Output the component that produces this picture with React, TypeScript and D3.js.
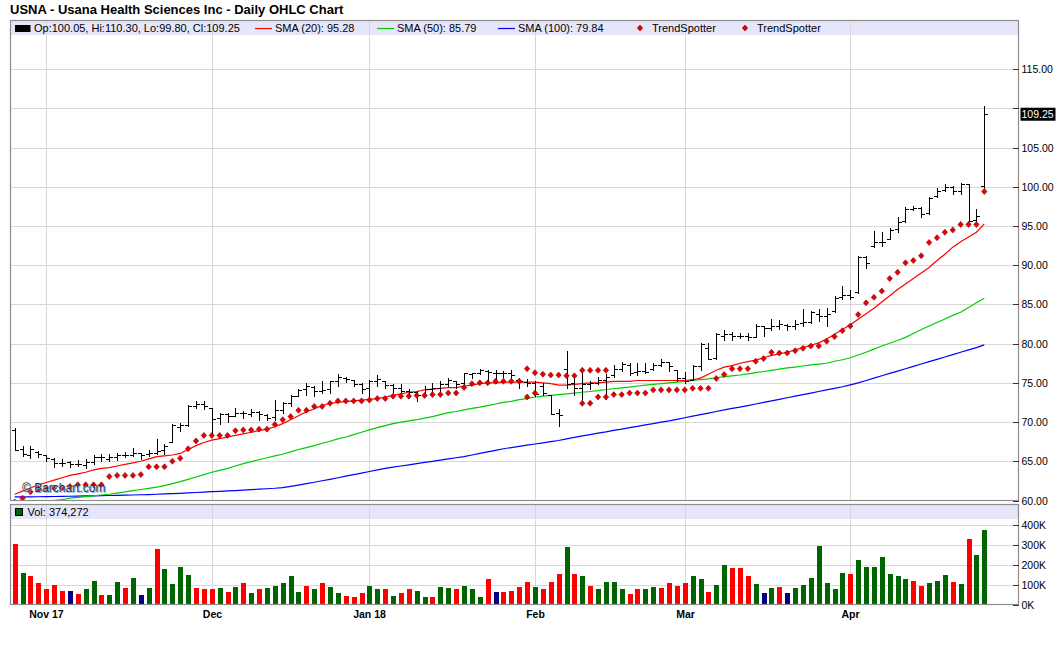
import React, { useEffect, useRef } from "react";
import * as d3 from "d3";

// trading days shown on the chart
const tradingDays: string[] = [
  "2017-10-26", "2017-10-27", "2017-10-30", "2017-10-31",
  "2017-11-01", "2017-11-02", "2017-11-03", "2017-11-06", "2017-11-07", "2017-11-08", "2017-11-09", "2017-11-10",
  "2017-11-13", "2017-11-14", "2017-11-15", "2017-11-16", "2017-11-17", "2017-11-20", "2017-11-21", "2017-11-22",
  "2017-11-24", "2017-11-27", "2017-11-28", "2017-11-29", "2017-11-30",
  "2017-12-01", "2017-12-04", "2017-12-05", "2017-12-06", "2017-12-07", "2017-12-08", "2017-12-11", "2017-12-12",
  "2017-12-13", "2017-12-14", "2017-12-15", "2017-12-18", "2017-12-19", "2017-12-20", "2017-12-21", "2017-12-22",
  "2017-12-26", "2017-12-27", "2017-12-28", "2017-12-29",
  "2018-01-02", "2018-01-03", "2018-01-04", "2018-01-05", "2018-01-08", "2018-01-09", "2018-01-10", "2018-01-11",
  "2018-01-12", "2018-01-16", "2018-01-17", "2018-01-18", "2018-01-19", "2018-01-22", "2018-01-23", "2018-01-24",
  "2018-01-25", "2018-01-26", "2018-01-29", "2018-01-30", "2018-01-31",
  "2018-02-01", "2018-02-02", "2018-02-05", "2018-02-06", "2018-02-07", "2018-02-08", "2018-02-09", "2018-02-12",
  "2018-02-13", "2018-02-14", "2018-02-15", "2018-02-16", "2018-02-20", "2018-02-21", "2018-02-22", "2018-02-23",
  "2018-02-26", "2018-02-27", "2018-02-28",
  "2018-03-01", "2018-03-02", "2018-03-05", "2018-03-06", "2018-03-07", "2018-03-08", "2018-03-09", "2018-03-12",
  "2018-03-13", "2018-03-14", "2018-03-15", "2018-03-16", "2018-03-19", "2018-03-20", "2018-03-21", "2018-03-22",
  "2018-03-23", "2018-03-26", "2018-03-27", "2018-03-28", "2018-03-29",
  "2018-04-02", "2018-04-03", "2018-04-04", "2018-04-05", "2018-04-06", "2018-04-09", "2018-04-10", "2018-04-11",
  "2018-04-12", "2018-04-13", "2018-04-16", "2018-04-17", "2018-04-18", "2018-04-19", "2018-04-20", "2018-04-23",
  "2018-04-24", "2018-04-25",
];

const monthLabels = ["Nov 17", "Dec", "Jan 18", "Feb", "Mar", "Apr"];

const opens = [
  69.0, 66.6, 65.8, 66.2, 65.8, 65.3, 64.8, 64.9, 64.6, 64.5,
  64.9, 65.5, 65.3, 65.6, 65.8, 65.8, 66.0, 65.9, 66.1, 66.4,
  67.5, 69.4, 69.6, 72.0, 72.3, 71.8, 70.5, 71.0, 70.8, 71.2,
  71.0, 71.3, 70.9, 70.6, 71.6, 72.4, 73.3, 74.2, 74.5, 74.0,
  74.2, 75.2, 75.6, 75.4, 74.8, 74.3, 75.2, 75.3, 74.7, 74.3,
  74.0, 73.8, 73.5, 74.2, 74.4, 74.8, 75.3, 75.0, 76.1, 76.2,
  76.5, 76.3, 76.2, 76.2, 75.4, 75.1, 75.0, 74.6, 73.4, 71.2,
  76.8, 75.0, 74.3, 74.8, 75.0, 75.4, 76.0, 76.8, 77.3, 76.4,
  76.5, 76.8, 77.3, 77.6, 76.6, 75.6, 75.4, 77.2, 79.5, 78.2,
  81.0, 81.2, 81.0, 81.0, 80.9, 82.2, 82.0, 82.3, 82.4, 82.2,
  82.6, 82.8, 83.8, 83.5, 84.1, 85.9, 86.2, 86.6, 91.0, 92.5,
  93.0, 93.4, 94.6, 95.6, 97.2, 97.3, 96.6, 98.8, 99.6, 100.0,
  99.4, 100.3, 95.8, 100.05,
];
const highs = [
  69.2, 67.0, 67.0, 66.3, 65.8, 65.4, 65.3, 65.1, 65.2, 65.3,
  65.8, 65.9, 65.9, 66.0, 66.2, 66.7, 66.1, 66.5, 67.9, 67.2,
  69.7, 69.9, 72.2, 72.7, 72.7, 71.8, 71.1, 71.1, 71.8, 71.4,
  71.7, 71.4, 71.0, 72.8, 72.5, 73.4, 74.2, 75.0, 74.6, 75.2,
  75.3, 76.1, 75.8, 75.4, 75.0, 75.4, 76.0, 75.3, 74.9, 74.9,
  74.2, 73.9, 74.6, 75.0, 75.3, 75.6, 75.3, 76.3, 76.3, 76.8,
  76.6, 76.7, 76.5, 76.6, 75.6, 75.5, 75.2, 75.0, 73.4, 71.7,
  79.0, 75.6, 76.7, 75.2, 75.8, 76.1, 77.3, 77.7, 77.5, 77.5,
  77.5, 77.5, 78.0, 77.7, 76.7, 76.4, 77.3, 80.1, 80.1, 81.4,
  81.8, 81.5, 81.3, 81.3, 82.5, 82.3, 83.2, 83.0, 82.5, 83.0,
  84.4, 84.2, 84.4, 84.5, 86.1, 87.4, 86.8, 91.2, 91.2, 94.4,
  94.2, 94.8, 96.1, 97.4, 97.6, 97.4, 98.7, 99.9, 100.4, 100.1,
  100.5, 100.3, 97.2, 110.3,
];
const lows = [
  66.4, 65.7, 65.4, 65.5, 65.0, 64.3, 64.4, 64.3, 64.4, 64.2,
  64.6, 65.0, 65.0, 65.2, 65.5, 65.7, 65.3, 65.7, 65.9, 65.9,
  67.4, 68.9, 69.5, 71.8, 71.7, 68.6, 69.7, 70.0, 70.8, 70.5,
  70.8, 70.3, 70.3, 70.3, 71.2, 72.0, 73.3, 73.5, 73.3, 73.7,
  73.7, 74.6, 75.1, 74.6, 73.7, 72.9, 74.6, 74.4, 73.8, 73.8,
  73.5, 72.7, 73.5, 73.7, 73.7, 74.6, 74.4, 74.6, 75.6, 76.1,
  75.0, 75.0, 75.8, 75.4, 74.4, 74.6, 73.3, 73.5, 71.0, 69.5,
  74.4, 73.5, 72.2, 74.2, 74.8, 72.9, 75.8, 76.5, 76.0, 76.0,
  76.3, 76.7, 77.1, 76.5, 75.2, 75.0, 75.4, 76.7, 78.0, 78.0,
  80.5, 80.5, 80.7, 80.4, 80.9, 81.0, 81.7, 81.9, 81.7, 81.9,
  82.3, 82.6, 82.9, 82.3, 84.0, 85.7, 85.7, 86.5, 89.7, 92.3,
  92.5, 93.4, 94.2, 95.5, 97.0, 96.2, 96.5, 98.7, 99.5, 99.1,
  99.1, 95.7, 95.1, 99.8,
];
const closes = [
  66.5, 65.9, 66.6, 65.9, 65.4, 64.8, 64.8, 64.7, 64.7, 64.9,
  65.5, 65.5, 65.6, 65.8, 65.8, 66.0, 65.8, 66.1, 66.3, 67.0,
  69.6, 69.6, 72.1, 72.3, 72.0, 70.4, 71.0, 70.8, 71.2, 71.1,
  71.3, 71.0, 70.5, 71.5, 72.4, 73.3, 74.1, 74.6, 73.9, 74.1,
  75.2, 75.8, 75.5, 74.8, 74.2, 75.2, 75.5, 74.7, 74.3, 74.0,
  73.8, 73.5, 74.2, 74.4, 74.8, 75.4, 74.9, 76.2, 76.2, 76.6,
  76.4, 76.2, 76.3, 76.0, 75.2, 75.0, 73.6, 73.7, 71.0, 70.9,
  74.8, 74.3, 74.8, 75.0, 75.4, 75.8, 76.8, 77.4, 76.3, 76.5,
  76.4, 77.3, 77.6, 77.2, 75.6, 75.2, 77.2, 80.0, 78.0, 81.2,
  81.2, 81.0, 81.0, 80.8, 82.3, 82.0, 82.2, 82.5, 82.2, 82.5,
  82.8, 84.0, 83.5, 83.8, 85.8, 86.2, 86.0, 91.0, 90.3, 93.0,
  93.0, 94.5, 95.5, 97.2, 97.3, 96.5, 98.6, 99.5, 100.0, 99.5,
  100.3, 95.7, 96.3, 109.25,
];

const sma20 = [
  60.8, 61.2, 61.6, 62.0, 62.3, 62.6, 62.9, 63.2, 63.4, 63.6,
  63.9, 64.1, 64.2, 64.4, 64.6, 64.8, 65.0, 65.3, 65.6, 65.7,
  65.8, 66.0, 66.5, 67.0, 67.4, 67.7, 67.9, 68.1, 68.3, 68.5,
  68.7, 68.9, 69.1, 69.4, 69.8, 70.3, 70.8, 71.3, 71.7, 72.1,
  72.4, 72.5, 72.6, 72.7, 72.8, 72.9, 73.0, 73.2, 73.4, 73.6,
  73.8, 73.9, 74.1, 74.2, 74.3, 74.4, 74.4, 74.6, 74.7, 74.9,
  75.0, 75.0, 75.1, 75.1, 75.1, 75.1, 75.1, 75.0, 74.9, 74.7,
  74.7, 74.8, 74.9, 75.0, 75.0, 75.1, 75.2, 75.2, 75.2, 75.3,
  75.3, 75.3, 75.3, 75.3, 75.3, 75.3, 75.4, 75.6, 76.1, 76.6,
  77.0, 77.2, 77.5, 77.7, 77.9, 78.2, 78.5, 78.7, 78.9, 79.2,
  79.5, 79.8, 80.1, 80.6, 81.2, 81.8, 82.4, 83.1, 83.8, 84.5,
  85.3, 86.1, 86.9, 87.6, 88.3, 89.0, 89.7, 90.6, 91.4, 92.3,
  93.0, 93.6, 94.2, 95.28,
];
const sma50 = [
  59.4, 59.5, 59.6, 59.8, 59.9, 60.0, 60.1, 60.3, 60.4, 60.5,
  60.6, 60.7, 60.8, 60.95, 61.1, 61.25, 61.4, 61.55, 61.7, 61.9,
  62.15, 62.4, 62.7, 63.0, 63.3, 63.6, 63.85, 64.1, 64.4, 64.7,
  64.95, 65.2, 65.45, 65.7, 65.9, 66.2, 66.5, 66.75, 67.0, 67.3,
  67.55, 67.85, 68.1, 68.4, 68.7, 69.0, 69.3, 69.55, 69.8, 70.0,
  70.15, 70.3, 70.5, 70.7, 70.95, 71.2, 71.35, 71.55, 71.75, 71.9,
  72.1, 72.3, 72.5, 72.65, 72.85, 73.0, 73.2, 73.3, 73.4, 73.5,
  73.6, 73.7, 73.8, 73.9, 74.0, 74.15, 74.25, 74.35, 74.45, 74.6,
  74.7, 74.8, 74.9, 75.0, 75.1, 75.2, 75.3, 75.4, 75.5, 75.65,
  75.8, 75.9, 76.0, 76.15, 76.3, 76.45, 76.6, 76.75, 76.9, 77.0,
  77.15, 77.3, 77.4, 77.5, 77.75, 77.95, 78.2, 78.55, 78.9, 79.3,
  79.7, 80.05, 80.4, 80.8, 81.3, 81.8, 82.25, 82.7, 83.15, 83.6,
  84.0, 84.6, 85.2, 85.79,
];
const sma100 = [
  60.45, 60.46, 60.47, 60.48, 60.5, 60.51, 60.52, 60.54, 60.56, 60.58,
  60.6, 60.62, 60.64, 60.66, 60.68, 60.7, 60.73, 60.76, 60.8, 60.84,
  60.88, 60.92, 60.97, 61.02, 61.07, 61.12, 61.17, 61.22, 61.27, 61.32,
  61.38, 61.44, 61.5, 61.56, 61.65, 61.8, 61.97, 62.15, 62.33, 62.52,
  62.7, 62.9, 63.1, 63.3, 63.5, 63.7, 63.9, 64.1, 64.25, 64.4,
  64.55, 64.7, 64.85, 65.0, 65.15, 65.3, 65.45, 65.6, 65.8, 66.0,
  66.2, 66.4, 66.6, 66.75, 66.9, 67.05, 67.2, 67.35, 67.5, 67.65,
  67.85, 68.05, 68.25, 68.4, 68.6, 68.75, 68.95, 69.1, 69.3, 69.45,
  69.65, 69.8, 70.0, 70.15, 70.35, 70.55, 70.75, 70.95, 71.15, 71.35,
  71.55, 71.75, 71.9, 72.1, 72.3, 72.5, 72.7, 72.9, 73.1, 73.3,
  73.5, 73.7, 73.9, 74.1, 74.3, 74.5, 74.75, 75.0, 75.3, 75.6,
  75.9, 76.2, 76.5, 76.8, 77.1, 77.4, 77.7, 78.0, 78.3, 78.6,
  78.9, 79.2, 79.5, 79.84,
];

// TrendSpotter markers (null = no marker that day)
const trendBelow: (number | null)[] = [
  59.8, 60.3, 61.1, 61.5, 61.6, 61.6, 61.6, 61.8, 62.0, 62.0,
  62.0, 62.0, 63.05, 63.2, 63.2, 63.2, 63.3, 64.3, 64.3, 64.3,
  65.0, 65.4, 66.6, 67.6, 68.3, 68.3, 68.3, 68.3, 68.9, 69.0,
  69.0, 69.1, 69.1, 69.7, 70.3, 70.7, 71.5, 71.5, 72.0, 72.0,
  72.4, 72.7, 72.7, 72.7, 72.7, 72.8, 73.0, 73.0, 73.3, 73.3,
  73.3, 73.4, 73.4, 73.5, 73.5, 73.7, 73.7, 74.4, 74.9, 75.0,
  75.0, 75.2, 75.2, 75.2, 75.2, 73.2, 73.7, null, null, null,
  null, null, 72.4, 72.4, 73.2, 73.2, 73.5, 73.5, 73.7, 73.7,
  73.7, 74.1, 74.1, 74.1, 74.1, 74.1, 74.3, 74.3, 74.3, 75.55,
  76.06, 76.8, 76.8, 76.8, 77.75, 78.1, 78.9, 78.8, 78.8, 79.1,
  79.4, 79.7, 79.7, 80.3, 80.9, 81.65, 82.25, 83.7, 85.2, 85.9,
  86.7, 88.3, 89.1, 90.3, 90.6, 91.2, 92.9, 93.5, 94.2, 94.5,
  95.2, 95.2, 95.2, 99.4,
];
const trendAbove: (number | null)[] = [
  null, null, null, null, null, null, null, null, null, null,
  null, null, null, null, null, null, null, null, null, null,
  null, null, null, null, null, null, null, null, null, null,
  null, null, null, null, null, null, null, null, null, null,
  null, null, null, null, null, null, null, null, null, null,
  null, null, null, null, null, null, null, null, null, null,
  null, null, null, null, null, 76.8, 76.3, 76.1, 76.0, 76.0,
  75.9, 75.9, 76.6, 76.6, 76.6, 76.6, null, null, null, null,
  null, null, null, null, null, null, null, null, null, null,
  null, null, null, null, null, null, null, null, null, null,
  null, null, null, null, null, null, null, null, null, null,
  null, null, null, null, null, null, null, null, null, null,
  null, null, null, null,
];

// volume in shares
const volumes = [
  301000, 160000, 145000, 110000, 80000, 100000, 70000, 70000, 55000, 80000,
  120000, 50000, 50000, 115000, 85000, 135000, 50000, 85000, 276000, 176000,
  105000, 186000, 150000, 85000, 80000, 80000, 85000, 65000, 90000, 110000,
  60000, 80000, 85000, 95000, 110000, 145000, 65000, 95000, 75000, 110000,
  90000, 60000, 45000, 40000, 60000, 95000, 80000, 80000, 45000, 57000,
  75000, 70000, 40000, 40000, 90000, 85000, 80000, 95000, 75000, 40000,
  130000, 65000, 65000, 70000, 90000, 115000, 90000, 75000, 115000, 155000,
  286000, 155000, 145000, 95000, 80000, 115000, 115000, 80000, 55000, 75000,
  80000, 90000, 85000, 110000, 95000, 110000, 145000, 130000, 65000, 100000,
  196000, 181000, 181000, 145000, 105000, 60000, 85000, 90000, 60000, 85000,
  100000, 135000, 291000, 110000, 80000, 160000, 155000, 221000, 186000, 186000,
  236000, 155000, 145000, 130000, 120000, 95000, 110000, 120000, 150000, 115000,
  105000, 326000, 246000, 374272,
];
// R = down, G = up, N = unchanged
const volumeDir = (
  "RGRRRRRNRG" + "GRGGRGNGRG" + "GGGRRRGRGR" + "GRGGGGGRGR" + "GGRRRGGRGR" +
  "RGGRGGRGGG" + "RNRRRRGRRR" + "GRGRGGGGRR" + "GGRRRRGGRG" + "GRRRGNGRNG" +
  "GGGGGGRGGG" + "GGGGRRGGGR" + "GRGG"
).split("");

const priceTicks = [65, 70, 75, 80, 85, 90, 95, 100, 105, 110, 115];
const volumeTicks = [0, 100000, 200000, 300000, 400000];

const FONT = "'Liberation Sans', Arial, sans-serif";

const App = () => {
  const svgRef = useRef<SVGSVGElement>(null);

  useEffect(() => {
    const svg = d3.select(svgRef.current);
    svg.selectAll("*").remove();

    const left = 10.5;
    const right = 1018.5;
    const priceTop = 20.5;
    const priceBottom = 500.5;
    const volTop = 504.5;
    const volBottom = 604.5;

    const x = d3.scalePoint<string>().domain(tradingDays).range([14.7, 984.3]);
    const y = d3.scaleLinear().domain([60, 121.2]).range([priceBottom, priceTop]);
    const yv = d3.scaleLinear().domain([0, 500000]).range([volBottom, volTop]);
    const px = (i: number) => Math.round(x(tradingDays[i]) as number) + 0.5;
    const last = closes.length - 1;
    const yl = y(closes[last]);

    svg.append("rect").attr("width", 1060).attr("height", 645).attr("fill", "#fff");

    svg
      .append("text")
      .attr("x", 10)
      .attr("y", 13.5)
      .attr("font-family", FONT)
      .attr("font-weight", "bold")
      .attr("font-size", 13)
      .attr("fill", "#000")
      .text("USNA - Usana Health Sciences Inc - Daily OHLC Chart");

    const defs = svg.append("defs");
    defs
      .append("clipPath")
      .attr("id", "clipPrice")
      .append("rect")
      .attr("x", left)
      .attr("y", priceTop)
      .attr("width", right - left)
      .attr("height", priceBottom - priceTop);
    defs
      .append("clipPath")
      .attr("id", "clipVol")
      .append("rect")
      .attr("x", left)
      .attr("y", volTop)
      .attr("width", right - left)
      .attr("height", volBottom - volTop);

    // legend bands
    svg.append("rect").attr("x", left).attr("y", priceTop).attr("width", right - left).attr("height", 14.5).attr("fill", "#e6e6fa");
    svg.append("rect").attr("x", left).attr("y", volTop).attr("width", right - left).attr("height", 14.5).attr("fill", "#e6e6fa");

    const grid = svg.append("g").attr("stroke", "#d8d8d8").attr("stroke-width", 1).attr("shape-rendering", "crispEdges");
    priceTicks.forEach((t) => {
      const yy = Math.round(y(t)) + 0.5;
      grid.append("line").attr("x1", left).attr("x2", right).attr("y1", yy).attr("y2", yy);
    });
    volumeTicks.slice(1).forEach((t) => {
      const yy = Math.round(yv(t)) + 0.5;
      grid.append("line").attr("x1", left).attr("x2", right).attr("y1", yy).attr("y2", yy);
    });

    // month starts
    const monthStarts: number[] = [];
    tradingDays.forEach((d, i) => {
      if (i > 0 && d.slice(0, 7) !== tradingDays[i - 1].slice(0, 7)) monthStarts.push(i);
    });
    monthStarts.forEach((i) => {
      grid.append("line").attr("x1", px(i)).attr("x2", px(i)).attr("y1", priceTop).attr("y2", priceBottom);
      grid.append("line").attr("x1", px(i)).attr("x2", px(i)).attr("y1", volTop).attr("y2", volBottom);
    });

    // moving averages
    const plot = svg.append("g").attr("clip-path", "url(#clipPrice)");
    const line = d3
      .line<number>()
      .x((d, i) => x(tradingDays[i]) as number)
      .y((d) => y(d));
    [
      { values: sma100, color: "#0000ff" },
      { values: sma50, color: "#00cc00" },
      { values: sma20, color: "#ff0000" },
    ].forEach((s) => {
      plot
        .append("path")
        .datum(s.values)
        .attr("fill", "none")
        .attr("stroke", s.color)
        .attr("stroke-width", 1.2)
        .attr("d", line);
    });

    // OHLC bars
    const bars = plot.append("g").attr("stroke", "#000").attr("stroke-width", 1).attr("shape-rendering", "crispEdges");
    tradingDays.forEach((d, i) => {
      const cx = px(i);
      bars.append("line").attr("x1", cx).attr("x2", cx).attr("y1", Math.round(y(highs[i]))).attr("y2", Math.round(y(lows[i])) + 1);
      const yo = Math.round(y(opens[i])) + 0.5;
      const yc = Math.round(y(closes[i])) + 0.5;
      bars.append("line").attr("x1", cx - 3.5).attr("x2", cx).attr("y1", yo).attr("y2", yo);
      bars.append("line").attr("x1", cx).attr("x2", cx + 3.5).attr("y1", yc).attr("y2", yc);
    });

    // TrendSpotter markers
    const diamond = "M0,-3L2.7,0L0,3L-2.7,0Z";
    const dots = plot.append("g");
    [trendBelow, trendAbove].forEach((series) => {
      series.forEach((v, i) => {
        if (v === null) return;
        dots
          .append("path")
          .attr("d", diamond)
          .attr("transform", `translate(${x(tradingDays[i])},${y(v)})`)
          .attr("fill", "#e60000")
          .attr("stroke", "#8b0000")
          .attr("stroke-width", 0.6);
      });
    });

    // watermark
    svg.append("text").attr("x", 23).attr("y", 492.5).attr("font-family", FONT).attr("font-size", 12).attr("fill", "#7fb2e5").text("\u00a9 Barchart.com");
    svg.append("text").attr("x", 22).attr("y", 491.5).attr("font-family", FONT).attr("font-size", 12).attr("fill", "#333").text("\u00a9 Barchart.com");

    // volume bars
    const vol = svg.append("g").attr("clip-path", "url(#clipVol)").attr("shape-rendering", "crispEdges");
    const volColor: Record<string, string> = { R: "#ff0000", G: "#006400", N: "#000080" };
    volumes.forEach((v, i) => {
      const cx = Math.round(x(tradingDays[i]) as number);
      const top = Math.round(yv(v));
      vol
        .append("rect")
        .attr("x", cx - 2)
        .attr("y", top)
        .attr("width", 5)
        .attr("height", Math.round(yv(0)) - top)
        .attr("fill", volColor[volumeDir[i]]);
    });

    // panel frames
    svg.append("rect").attr("x", left).attr("y", priceTop).attr("width", right - left).attr("height", priceBottom - priceTop)
      .attr("fill", "none").attr("stroke", "#8c8c8c").attr("stroke-width", 1.2);
    svg.append("rect").attr("x", left).attr("y", volTop).attr("width", right - left).attr("height", volBottom - volTop)
      .attr("fill", "none").attr("stroke", "#8c8c8c").attr("stroke-width", 1.2);

    // right axes (labels hidden under the last-price badge are skipped)
    const axis = svg.append("g").attr("font-family", FONT).attr("font-size", 10.5).attr("fill", "#000");
    [60, ...priceTicks].forEach((t) => {
      const yy = Math.round(y(t)) + 0.5;
      axis.append("line").attr("x1", right - 6).attr("x2", right).attr("y1", yy).attr("y2", yy).attr("stroke", "#333").attr("shape-rendering", "crispEdges");
      if (Math.abs(yy - yl) < 12) return;
      axis.append("text").attr("x", right + 3).attr("y", yy).attr("dy", "0.35em").text(d3.format(".2f")(t));
    });
    volumeTicks.forEach((t) => {
      const yy = Math.round(yv(t)) + 0.5;
      axis.append("line").attr("x1", right - 6).attr("x2", right).attr("y1", yy).attr("y2", yy).attr("stroke", "#333").attr("shape-rendering", "crispEdges");
      axis.append("text").attr("x", right + 3).attr("y", yy).attr("dy", "0.35em").text(`${t / 1000}K`);
    });

    // last price badge
    svg.append("rect").attr("x", right + 2).attr("y", yl - 6.5).attr("width", 35).attr("height", 13).attr("fill", "#000");
    svg.append("text").attr("x", right + 3).attr("y", yl).attr("dy", "0.35em").attr("font-family", FONT).attr("font-size", 10.5)
      .attr("fill", "#fff").text(closes[last].toFixed(2));

    // month labels
    monthStarts.forEach((i, k) => {
      svg.append("text").attr("x", px(i)).attr("y", 618).attr("text-anchor", "middle").attr("font-family", FONT)
        .attr("font-size", 10.5).attr("font-weight", "bold").attr("fill", "#000").text(monthLabels[k]);
    });

    // price legend
    const lg = svg.append("g").attr("font-family", FONT).attr("font-size", 11).attr("fill", "#000");
    const ly = 28;
    lg.append("rect").attr("x", 15).attr("y", 25).attr("width", 15.5).attr("height", 7).attr("fill", "#000");
    lg.append("text").attr("x", 34).attr("y", ly).attr("dy", "0.35em")
      .text(`Op:${opens[last].toFixed(2)}, Hi:${highs[last].toFixed(2)}, Lo:${lows[last].toFixed(2)}, Cl:${closes[last].toFixed(2)}`);
    [
      { x0: 255, color: "#ff0000", label: `SMA (20): ${sma20[last].toFixed(2)}` },
      { x0: 377, color: "#00cc00", label: `SMA (50): ${sma50[last].toFixed(2)}` },
      { x0: 498, color: "#0000ff", label: `SMA (100): ${sma100[last].toFixed(2)}` },
    ].forEach((s) => {
      lg.append("line").attr("x1", s.x0).attr("x2", s.x0 + 17).attr("y1", ly + 0.5).attr("y2", ly + 0.5).attr("stroke", s.color).attr("stroke-width", 1.2);
      lg.append("text").attr("x", s.x0 + 20).attr("y", ly).attr("dy", "0.35em").text(s.label);
    });
    [640, 745].forEach((x0) => {
      lg.append("path").attr("d", diamond).attr("transform", `translate(${x0},${ly})`).attr("fill", "#e60000").attr("stroke", "#8b0000").attr("stroke-width", 0.6);
      lg.append("text").attr("x", x0 + 12).attr("y", ly).attr("dy", "0.35em").text("TrendSpotter");
    });

    // volume legend
    svg.append("rect").attr("x", 15.5).attr("y", 508.5).attr("width", 7).attr("height", 7).attr("fill", "#006400").attr("stroke", "#000").attr("stroke-width", 1);
    svg.append("text").attr("x", 27.5).attr("y", 512).attr("dy", "0.35em").attr("font-family", FONT).attr("font-size", 11)
      .attr("fill", "#000").text(`Vol: ${d3.format(",")(volumes[last])}`);
  }, []);

  return (
    <svg
      ref={svgRef}
      width={1060}
      height={645}
      style={{ position: "absolute", left: 0, top: 0, display: "block" }}
    />
  );
};

export default App;
